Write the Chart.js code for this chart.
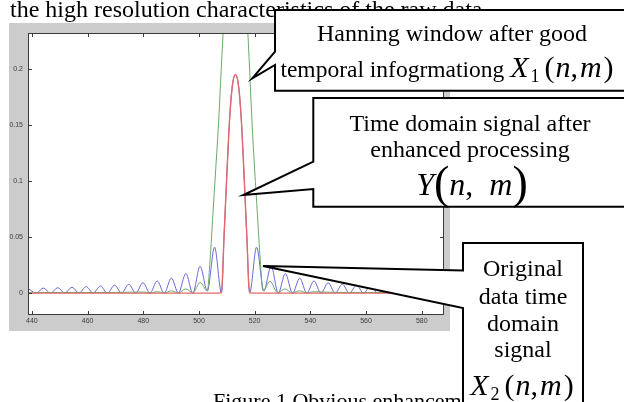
<!DOCTYPE html>
<html>
<head>
<meta charset="utf-8">
<script src="https://cdn.jsdelivr.net/npm/chart.js@4.4.1/dist/chart.umd.min.js"></script>
<style>
  html, body { margin: 0; padding: 0; background: #fff; }
  canvas { display: block; }
</style>
</head>
<body>
<canvas id="canvas" width="624" height="402"></canvas>
<script>
'use strict';

// axis ticks
const xTicks = [440, 460, 480, 500, 520, 540, 560, 580];
const yTicks = [0, 0.05, 0.1, 0.15, 0.2];

// Y(n,m): time domain signal after enhanced processing (red)
const redX = [438.6, 507.4, 508.2, 509, 510, 511, 512, 513.1, 514.2, 515.2, 516.2, 517.2, 518, 518.8, 588];
const redY = [0, 0, 0.004, 0.05, 0.105, 0.155, 0.185, 0.195, 0.185, 0.155, 0.105, 0.05, 0.004, 0, 0];

// X1(n,m): hanning window (green)
const greenX = [438.6, 470, 475, 480, 482.4, 485, 487.5, 490.1, 492.6, 495.3, 497.8, 500.4, 503,
  504, 505, 506, 507, 508, 509, 510, 511.5, 513, 514.5, 516, 517, 518, 519, 520, 521, 522,
  523, 525.5, 528.3, 530.9, 533.5, 536.1, 538.7, 541.3, 546, 556, 588];
const greenY = [0.0005, 0.0006, 0.0008, 0.001, 0.0002, 0.0013, 0.0002, 0.002, 0.0002, 0.0038, 0.0003, 0.0095, 0.002,
  0.03, 0.07, 0.11, 0.15, 0.2, 0.25, 0.32, 0.39, 0.42, 0.39, 0.32, 0.26, 0.21, 0.155, 0.11, 0.07, 0.03,
  0.002, 0.0105, 0.0003, 0.0038, 0.0002, 0.002, 0.0002, 0.0013, 0.0008, 0.0006, 0.0005];

// X2(n,m): original data time domain signal (blue)
const blueX = [438.6, 441.5, 444.1, 446.7, 449.3, 451.8, 454.4, 456.9, 459.5, 462, 464.6, 467.1,
  469.7, 472.2, 474.8, 477.3, 479.9, 482.4, 485, 487.5, 490.1, 492.6, 495.3, 497.8, 500.4, 503,
  505.6, 508.1, 509, 510, 511, 512, 513.1, 514.2, 515.2, 516.2, 517.2, 518.2,
  520.7, 523.3, 525.9, 528.5, 531, 533.6, 536.2, 538.7, 541.3, 543.8, 546.4, 548.9, 551.5, 554,
  556.6, 559.1, 561.7, 564.2, 566.8, 569.3, 571.9, 574.4, 577, 579.5, 582.1, 584.6, 587.2, 588];
const blueY = [0.0043, 0, 0.0045, 0, 0.0049, 0, 0.0053, 0, 0.0058, 0, 0.0064, 0,
  0.0071, 0, 0.008, 0, 0.0093, 0, 0.0109, 0, 0.0134, 0, 0.0175, 0, 0.024, 0.002,
  0.041, 0, 0.05, 0.105, 0.155, 0.185, 0.195, 0.185, 0.155, 0.105, 0.05, 0,
  0.041, 0.002, 0.024, 0, 0.0175, 0, 0.0134, 0, 0.0109, 0, 0.0093, 0, 0.008, 0,
  0.0071, 0, 0.0064, 0, 0.0058, 0, 0.0053, 0, 0.0049, 0, 0.0045, 0, 0.0042, 0.003];

const toPoints = (xs, ys) => xs.map((x, i) => ({ x: x, y: ys[i] }));

// draw a row of text pieces [text, font, dy, gapAfter], centred on cx
const drawRuns = (ctx, runs, cx, y) => {
  let w = 0;
  runs.forEach(r => { ctx.font = r[1]; w += ctx.measureText(r[0]).width + (r[3] || 0); });
  let x = cx - w / 2;
  runs.forEach(r => {
    ctx.font = r[1];
    ctx.fillText(r[0], x, y + (r[2] || 0));
    x += ctx.measureText(r[0]).width + (r[3] || 0);
  });
};

const callout = (ctx, pts) => {
  ctx.beginPath();
  ctx.moveTo(pts[0][0], pts[0][1]);
  for (let i = 1; i < pts.length; i++) ctx.lineTo(pts[i][0], pts[i][1]);
  ctx.closePath();
  ctx.fillStyle = '#ffffff';
  ctx.fill();
  ctx.strokeStyle = '#000000';
  ctx.lineWidth = 2;
  ctx.stroke();
};

const SERIF = '"Liberation Serif", "Times New Roman", serif';

// n,m equation pieces shared by the two X labels
const xLabel = sub => [
  ['X', 'italic 30px ' + SERIF, 0, 2],
  [sub, '18px ' + SERIF, 5, 5],
  ['(', '30px ' + SERIF, 0, 1],
  ['n', 'italic 30px ' + SERIF],
  [',', '30px ' + SERIF, 0, 2],
  ['m', 'italic 30px ' + SERIF, 0, 2],
  [')', '30px ' + SERIF]
];

const figurePlugin = {
  id: 'figure',
  beforeDraw(chart) {
    const ctx = chart.ctx, a = chart.chartArea;
    ctx.save();
    ctx.fillStyle = '#cccccc';
    ctx.fillRect(9, 23, 441, 308);
    ctx.fillStyle = '#ffffff';
    ctx.fillRect(a.left, a.top, a.right - a.left, a.bottom - a.top);
    ctx.restore();
  },
  afterDatasetsDraw(chart) {
    const ctx = chart.ctx, a = chart.chartArea;
    const xs = chart.scales.x, ys = chart.scales.y;
    ctx.save();
    ctx.strokeStyle = '#3a3a3a';
    ctx.lineWidth = 1;
    ctx.strokeRect(a.left + 0.5, a.top + 0.5, a.right - a.left - 1, a.bottom - a.top - 1);
    ctx.beginPath();
    xTicks.forEach(v => {
      const px = Math.round(xs.getPixelForValue(v)) + 0.5;
      ctx.moveTo(px, a.bottom); ctx.lineTo(px, a.bottom - 4);
      ctx.moveTo(px, a.top); ctx.lineTo(px, a.top + 4);
    });
    yTicks.forEach(v => {
      const py = Math.round(ys.getPixelForValue(v)) + 0.5;
      ctx.moveTo(a.left, py); ctx.lineTo(a.left + 4, py);
      ctx.moveTo(a.right, py); ctx.lineTo(a.right - 4, py);
    });
    ctx.stroke();
    ctx.restore();
  },
  afterDraw(chart) {
    const ctx = chart.ctx;
    ctx.save();
    ctx.fillStyle = '#000000';
    ctx.textAlign = 'left';
    ctx.textBaseline = 'alphabetic';

    // surrounding document text
    ctx.font = '24px ' + SERIF;
    ctx.fillText('the high resolution characteristics of the raw data', 10, 17);
    ctx.font = '22px ' + SERIF;
    ctx.fillText('Figure 1 Obvious enhancement of signal', 213, 408);

    // Hanning window callout
    callout(ctx, [[275, 10], [640, 10], [640, 90.7], [275, 90.7], [275, 65], [252.3, 78.3], [275, 51.7]]);
    ctx.fillStyle = '#000000';
    drawRuns(ctx, [['Hanning window after good', '24px ' + SERIF]], 452, 41);
    drawRuns(ctx, [['temporal infogrmationg ', '23.5px ' + SERIF]].concat(xLabel('1')), 447, 77);

    // enhanced signal callout
    callout(ctx, [[313.3, 98], [640, 98], [640, 206.7], [313.3, 206.7], [313.3, 189], [243.3, 195], [313.3, 161.7]]);
    ctx.fillStyle = '#000000';
    drawRuns(ctx, [['Time domain signal after', '24px ' + SERIF]], 470, 131);
    drawRuns(ctx, [['enhanced processing', '24px ' + SERIF]], 470, 157);
    drawRuns(ctx, [
      ['Y', 'italic 32px ' + SERIF],
      ['(', '46px ' + SERIF, 3],
      ['n', 'italic 32px ' + SERIF],
      [',  ', '32px ' + SERIF],
      ['m', 'italic 32px ' + SERIF],
      [')', '46px ' + SERIF, 3]
    ], 472, 195);

    // original signal callout
    callout(ctx, [[463, 243], [583, 243], [583, 420], [463, 420], [463, 308], [263, 266], [463, 270.5]]);
    ctx.fillStyle = '#000000';
    drawRuns(ctx, [['Original', '24px ' + SERIF]], 523, 276);
    drawRuns(ctx, [['data time', '24px ' + SERIF]], 523, 304);
    drawRuns(ctx, [['domain', '24px ' + SERIF]], 523, 331);
    drawRuns(ctx, [['signal', '24px ' + SERIF]], 523, 357);
    drawRuns(ctx, xLabel('2'), 522, 395);
    ctx.restore();
  }
};

const chart = new Chart(document.getElementById('canvas').getContext('2d'), {
  type: 'line',
  data: {
    datasets: [
      { label: 'Y(n,m)', data: toPoints(redX, redY), borderColor: '#e46a6a', borderWidth: 1.4 },
      { label: 'X1(n,m)', data: toPoints(greenX, greenY), borderColor: '#6aab6a' },
      { label: 'X2(n,m)', data: toPoints(blueX, blueY), borderColor: '#6a6ad8' }
    ]
  },
  options: {
    responsive: false,
    animation: false,
    events: [],
    layout: { padding: { left: 0, top: 33, right: 180, bottom: 67 } },
    elements: {
      point: { radius: 0 },
      line: { borderWidth: 1, cubicInterpolationMode: 'monotone', fill: false }
    },
    plugins: { legend: { display: false }, tooltip: { enabled: false } },
    scales: {
      x: {
        type: 'linear',
        min: 438.6,
        max: 588,
        afterBuildTicks: s => { s.ticks = xTicks.map(v => ({ value: v })); },
        afterFit: s => { s.height = 20; },
        grid: { display: false, drawTicks: false },
        border: { display: false },
        ticks: {
          padding: 2,
          maxRotation: 0,
          autoSkip: false,
          color: '#3c3c3c',
          font: { family: '"Liberation Sans", Arial, sans-serif', size: 7 },
          callback: v => String(v)
        }
      },
      y: {
        type: 'linear',
        min: -0.0195,
        max: 0.232,
        afterBuildTicks: s => { s.ticks = yTicks.map(v => ({ value: v })); },
        afterFit: s => { s.width = 28; },
        grid: { display: false, drawTicks: false },
        border: { display: false },
        ticks: {
          padding: 5,
          autoSkip: false,
          color: '#3c3c3c',
          font: { family: '"Liberation Sans", Arial, sans-serif', size: 7 },
          callback: v => String(v)
        }
      }
    }
  },
  plugins: [figurePlugin]
});
</script>
</body>
</html>
